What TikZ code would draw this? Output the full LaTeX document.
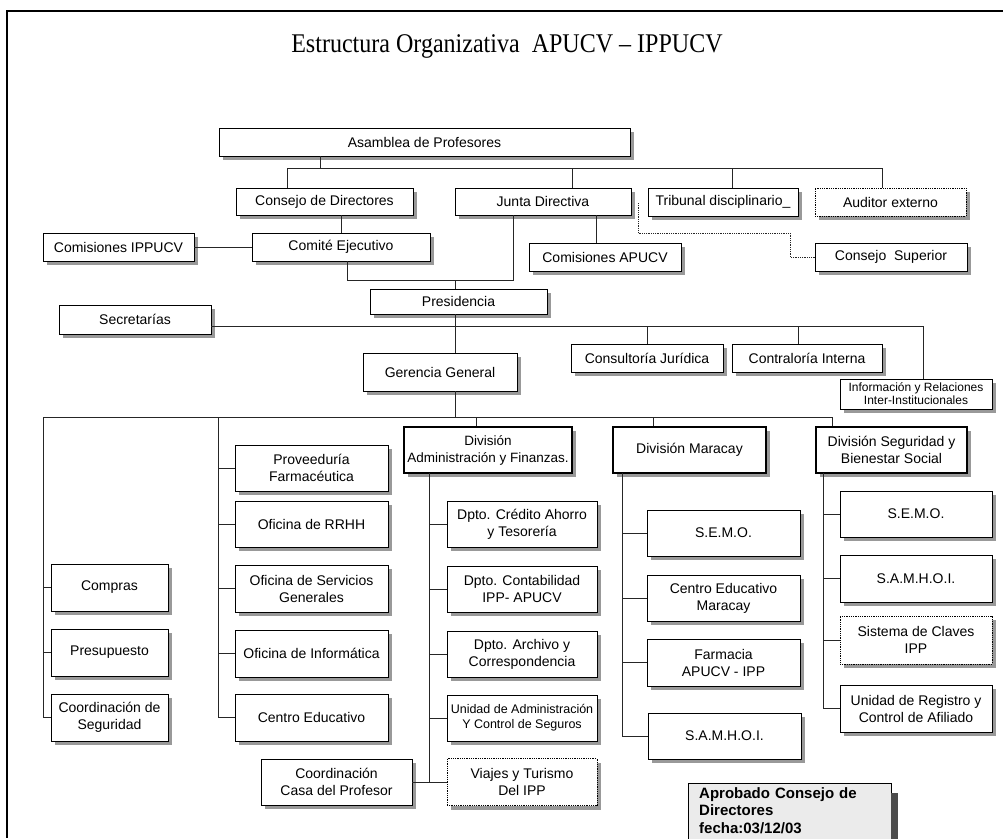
\documentclass[tikz,border=0pt]{standalone}
\usepackage{fontspec}
\setmainfont{Liberation Serif}
\setsansfont{Liberation Sans}
\usetikzlibrary{shadows}

\begin{document}
\begin{tikzpicture}[x=1pt, y=-1pt,
  every node/.style = {font=\sffamily\fontsize{14}{17}\selectfont},
  box/.style 2 args = {draw, fill=white, align=center, inner sep=0pt, line width=0.8pt,
    minimum width=#1pt, minimum height=#2pt,
    drop shadow={shadow xshift=4pt, shadow yshift=-4pt, fill=black!40, opacity=1}},
  divbox/.style 2 args = {box={#1}{#2}, line width=2.5pt},
  dotbox/.style 2 args = {box={#1}{#2}, densely dotted},
  small/.style = {font=\sffamily\fontsize{12.5}{15}\selectfont},
  conn/.style = {line width=0.8pt, black!85},
  dotconn/.style = {conn, densely dotted}]
\useasboundingbox (0,0) rectangle (1003,838);
\clip (0,0) rectangle (1003,838);
\fill [white] (0,0) rectangle (1003,838);
\draw [line width=1.2pt] (1003,11) -- (7,11) -- (7,838);

\node [font=\rmfamily\fontsize{27}{30}\selectfont, xscale=0.89, transform shape] (title) at (507,46) {Estructura Organizativa\ \ APUCV -- IPPUCV};

% upper levels
\node [box={411}{28}] (asamblea) at (424.5,142) {Asamblea de Profesores};
\node [box={177}{27}] (consejo) at (324.5,201.5) {Consejo de Directores};
\node [box={176}{27}] (junta) at (543,201.5) {Junta Directiva};
\node [box={150}{28}] (tribunal) at (723,202) {Tribunal disciplinario\_};
\node [dotbox={151}{28}] (auditor) at (890.5,202) {Auditor externo};
\node [box={151}{28}] (comipp) at (118.5,247) {Comisiones IPPUCV};
\node [box={178}{28}] (comite) at (341,247) {Comité Ejecutivo};
\node [box={152}{28}] (comapucv) at (605,257) {Comisiones APUCV};
\node [box={152}{28}] (superior) at (891,257) {Consejo\ \ Superior};
\node [box={177}{25}] (presidencia) at (458.5,301.5) {Presidencia};
\node [box={152}{29}] (secretarias) at (135,319.5) {Secretarías};
\node [box={154}{38}] (gerencia) at (440,372) {Gerencia General};
\node [box={152}{28}] (consultoria) at (647,358) {Consultoría Jurídica};
\node [box={150}{28}] (contraloria) at (807,358) {Contraloría Interna};
\node [box={152}{30}, font=\sffamily\fontsize{12}{13}\selectfont] (informacion) at (916,394) {Información y Relaciones\\Inter-Institucionales};

% left columns
\node [box={117}{47}] (compras) at (109.5,587.5) {Compras};
\node [box={117}{47}] (presupuesto) at (109.5,652.5) {Presupuesto};
\node [box={117}{47}] (coordseg) at (109.5,717.5) {Coordinación de\\Seguridad};
\node [box={153}{46}] (proveeduria) at (311.5,468) {Proveeduría\\Farmacéutica};
\node [box={153}{46}] (rrhh) at (311.5,524) {Oficina de RRHH};
\node [box={153}{47}] (servgen) at (311.5,588.5) {Oficina de Servicios\\Generales};
\node [box={153}{47}] (informatica) at (311.5,653.5) {Oficina de Informática};
\node [box={153}{47}] (centroedu) at (311.5,717.5) {Centro Educativo};
\node [box={151}{46}] (casaprof) at (336.5,782) {Coordinación\\Casa del Profesor};

% divisions
\node [divbox={168}{46}, font=\sffamily\fontsize{13.5}{17}\selectfont] (divadm) at (488,450) {División\\Administración y Finanzas.};
\node [box={150}{46}] (credito) at (522,524) {Dpto. Crédito Ahorro\\y Tesorería};
\node [box={150}{46}] (contab) at (522,589) {Dpto. Contabilidad\\IPP- APUCV};
\node [box={150}{46}] (archivo) at (522,654) {Dpto. Archivo y\\Correspondencia};
\node [box={150}{46}, small] (unidadseg) at (522,718) {Unidad de Administración\\Y Control de Seguros};
\node [dotbox={150}{47}] (viajes) at (522,782) {Viajes y Turismo\\Del IPP};

\node [divbox={153}{46}] (divmar) at (689.5,450) {División Maracay};
\node [box={153}{46}] (semo1) at (723.5,533) {S.E.M.O.};
\node [box={153}{46}] (cemar) at (723.5,598) {Centro Educativo\\Maracay};
\node [box={153}{47}] (farmacia) at (723.5,662.5) {Farmacia\\APUCV - IPP};
\node [box={153}{46}] (samhoi1) at (724.5,736) {S.A.M.H.O.I.};

\node [divbox={151}{46}] (divseg) at (891.5,450) {División Seguridad y\\Bienestar Social};
\node [box={152}{46}] (semo2) at (916,514) {S.E.M.O.};
\node [box={152}{47}] (samhoi2) at (916,578.5) {S.A.M.H.O.I.};
\node [dotbox={152}{48}] (claves) at (916,640) {Sistema de Claves\\IPP};
\node [box={152}{47}] (registro) at (916,708.5) {Unidad de Registro y\\Control de Afiliado};

% approval note
\node [draw, fill=black!8, anchor=north west, align=left, text width=181pt, inner xsep=11pt, inner ysep=4pt,
  font=\sffamily\bfseries\fontsize{15}{17.5}\selectfont] (aprobado) at (688,783)
  {Aprobado Consejo de\\Directores\\fecha:03/12/03\\[-9pt]\mbox{}};
\fill [black!70] ([yshift=-10pt]aprobado.north east) rectangle ([xshift=7pt]aprobado.south east);

% connectors, top
\coordinate (ta) at (320,168);
\coordinate (tc) at (287,168);
\coordinate (tj) at (572,168);
\coordinate (tt) at (732,168);
\coordinate (tu) at (882,168);
\draw [conn] (asamblea.south -| ta) -- (ta);
\draw [conn] (consejo.north -| tc) -- (tc) -- (tu) -- (auditor.north -| tu);
\draw [conn] (tj) -- (junta.north -| tj);
\draw [conn] (tt) -- (tribunal.north -| tt);
\draw [conn] (comite.north) -- (comite.north |- consejo.south);
\draw [conn] (comipp) -- (comite);
\coordinate (pj) at (513,280);
\coordinate (pv) at (455,280);
\draw [conn] ([xshift=6pt]comite.south) |- (pj) -- (pj |- junta.south);
\draw [conn] (pv) -- (presidencia.north -| pv);
\draw [conn] ([xshift=-9pt]comapucv.north) -- ([xshift=-9pt]comapucv.north |- junta.south);
\coordinate (dt) at (638,203);
\coordinate (dm) at (790,233);
\draw [dotconn] (dt) |- (dm) |- (superior.west);

% presidencia and staff
\coordinate (si) at (923,326);
\coordinate (sc) at (798,326);
\draw [conn] (presidencia.south -| pv) -- (gerencia.north -| pv);
\draw [conn] (secretarias.east |- si) -- (si) -- (informacion.north -| si);
\draw [conn] (consultoria.north) -- (consultoria.north |- si);
\draw [conn] (sc) -- (contraloria.north -| sc);

% gerencia bus
\coordinate (g0) at (455,417);
\coordinate (g1) at (43,417);
\coordinate (g2) at (218,417);
\coordinate (g3) at (476,417);
\coordinate (g4) at (653,417);
\coordinate (g5) at (832,417);
\draw [conn] (gerencia.south -| g0) -- (g0);
\draw [conn] (g1) -- (g5) -- (divseg.north -| g5);
\draw [conn] (g3) -- (divadm.north -| g3);
\draw [conn] (g4) -- (divmar.north -| g4);
\draw [conn] (g1) |- (coordseg.west);
\draw [conn] (g2) |- (centroedu.west);
\foreach \n in {compras, presupuesto}
  \draw [conn] (\n.west -| g1) -- (\n.west);
\foreach \n in {proveeduria, rrhh, servgen, informatica}
  \draw [conn] (\n.west -| g2) -- (\n.west);

% division branches
\coordinate (av) at (429,473);
\coordinate (mv) at (622,473);
\coordinate (sv) at (823,473);
\draw [conn] (av) |- (viajes.west);
\draw [conn] (casaprof) -- (viajes);
\foreach \n in {credito, contab, archivo, unidadseg}
  \draw [conn] (\n.west -| av) -- (\n.west);
\draw [conn] (mv) |- (samhoi1.west);
\foreach \n in {semo1, cemar, farmacia}
  \draw [conn] (\n.west -| mv) -- (\n.west);
\draw [conn] (sv) |- (registro.west);
\foreach \n in {semo2, samhoi2, claves}
  \draw [conn] (\n.west -| sv) -- (\n.west);
\end{tikzpicture}
\end{document}
